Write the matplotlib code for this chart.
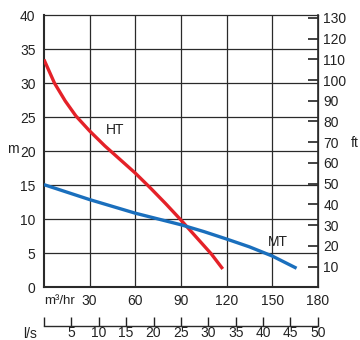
import matplotlib
matplotlib.use("Agg")
import matplotlib.pyplot as plt

plt.rcParams['font.family'] = ['Liberation Sans', 'DejaVu Sans']

# Pump curves: flow in m3/hr, head in m
ht_flow = [0, 7, 14, 21, 30, 40, 50, 60, 70, 80, 90, 100, 110, 117.5]
ht_head = [33.5, 30.0, 27.4, 25.2, 23.0, 20.8, 18.8, 16.8, 14.6, 12.3, 9.9, 7.4, 4.9, 2.7]
mt_flow = [0, 15, 30, 45, 60, 75, 90, 105, 120, 135, 150, 166]
mt_head = [15.1, 14.0, 12.9, 11.9, 10.9, 10.05, 9.2, 8.2, 7.1, 5.95, 4.6, 2.8]

flow_ticks = [30, 60, 90, 120, 150, 180]
head_ticks = [0, 5, 10, 15, 20, 25, 30, 35, 40]
ft_ticks = [10, 20, 30, 40, 50, 60, 70, 80, 90, 100, 110, 120, 130]
ls_ticks = [0, 5, 10, 15, 20, 25, 30, 35, 40, 45, 50]

M_TO_FT = 3.2808
LS_TO_M3H = 3.6

red = '#e42128'
blue = '#1a6fbd'
grid_c = '#2a2a2a'
txt_c = '#222222'
fs = 10

fig = plt.figure(figsize=(3.6, 3.4), dpi=100)
ax = fig.add_axes([0.122, 0.155, 0.761, 0.8])
ax.set_xlim(0, 180)
ax.set_ylim(0, 40)

for v in flow_ticks[:-1]:
    ax.axvline(v, color=grid_c, lw=0.9, zorder=1)
for h in head_ticks[1:-1]:
    ax.axhline(h, color=grid_c, lw=0.9, zorder=1)

ax.plot(ht_flow, ht_head, color=red, lw=2.4, zorder=3, solid_capstyle='butt',
        solid_joinstyle='round')
ax.plot(mt_flow, mt_head, color=blue, lw=2.4, zorder=3, solid_capstyle='butt',
        solid_joinstyle='round')
ax.text(46.5, 23.2, 'HT', fontsize=fs, ha='center', va='center', color=txt_c)
ax.text(153.5, 6.6, 'MT', fontsize=fs, ha='center', va='center', color=txt_c)

for s in ax.spines.values():
    s.set_color(grid_c)
    s.set_linewidth(0.9)
ax.spines['left'].set_linewidth(1.5)
ax.spines['bottom'].set_linewidth(1.5)

ax.set_xticks(flow_ticks)
ax.set_xticklabels([str(v) for v in flow_ticks])
ax.set_yticks(head_ticks)
ax.tick_params(axis='both', length=0, labelsize=fs, colors=txt_c)
ax.tick_params(axis='x', pad=4.5)
ax.tick_params(axis='y', pad=6)
ax.text(0, -0.05, 'm³/hr', transform=ax.transAxes, fontsize=9.5,
        ha='left', va='center', color=txt_c)
ax.text(-0.115, 0.51, 'm', transform=ax.transAxes, fontsize=fs, ha='center', va='center', color=txt_c)

# Head in feet on the right
ax2 = ax.twinx()
ax2.set_ylim(0, 40 * M_TO_FT)
ax2.set_yticks(ft_ticks)
ax2.tick_params(axis='y', direction='in', length=7, width=1.2, labelsize=fs,
                pad=4, colors=txt_c)
for s in ax2.spines.values():
    s.set_visible(False)
ax2.spines['right'].set_visible(True)
ax2.spines['right'].set_color(grid_c)
ax2.spines['right'].set_linewidth(1.2)
ax2.text(1.135, 0.53, 'ft', transform=ax.transAxes, fontsize=fs, ha='center', va='center', color=txt_c)

# Flow in l/s below
sec = ax.secondary_xaxis(-0.142, functions=(lambda x: x / LS_TO_M3H, lambda x: x * LS_TO_M3H))
sec.set_xticks(ls_ticks)
sec.set_xticklabels([''] + [str(v) for v in ls_ticks[1:]])
sec.tick_params(axis='x', direction='in', length=6.5, width=1.0, labelsize=fs, pad=0,
                colors=txt_c)
sec.spines['bottom'].set_color(grid_c)
sec.spines['bottom'].set_linewidth(1.0)
ax.text(-0.025, -0.17, 'l/s', transform=ax.transAxes, fontsize=fs, ha='right', va='center', color=txt_c)

fig.savefig('out.png', dpi=100)
